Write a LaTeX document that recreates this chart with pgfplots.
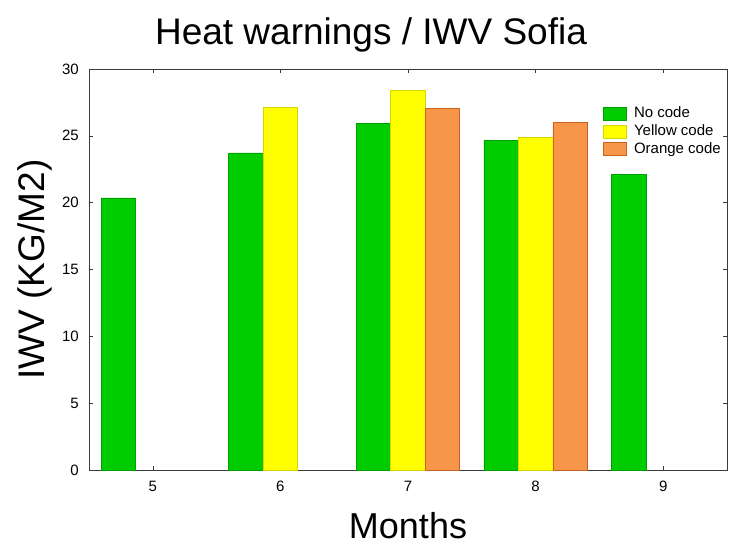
\documentclass[border=0pt]{standalone}
\usepackage{pgfplots}
\pgfplotsset{compat=1.18}
\usepackage{fontspec}
\setmainfont{Liberation Sans}
\definecolor{gfill}{RGB}{0,204,0}
\definecolor{gedge}{RGB}{0,160,0}
\definecolor{yfill}{RGB}{255,255,0}
\definecolor{yedge}{RGB}{215,215,0}
\definecolor{ofill}{RGB}{247,150,72}
\definecolor{oedge}{RGB}{200,100,30}
\definecolor{axgray}{RGB}{60,60,60}
\begin{document}
\begin{tikzpicture}
\path[use as bounding box] (0,0) rectangle (731pt,552pt);
\begin{axis}[
  at={(89pt,82pt)}, anchor=south west,
  scale only axis, width=638pt, height=401pt,
  xmin=4.5, xmax=9.5, ymin=0, ymax=30,
  xtick={5,6,7,8,9}, ytick={0,5,...,30},
  tick align=inside, major tick length=4pt,
  tick style={axgray, line width=0.6pt},
  axis line style={axgray, line width=1pt},
  /pgf/number format/assume math mode=true,
  ticklabel style={font=\fontsize{15}{17}\selectfont},
  yticklabel style={anchor=east, inner sep=0pt, xshift=-10pt},
  xticklabel style={anchor=north, inner sep=0pt, yshift=-10.5pt},
  title={Heat warnings / IWV Sofia},
  title style={font=\fontsize{37}{42}\selectfont, at={(axis description cs:0.442,1)}, anchor=base, yshift=19pt},
  xlabel={Months},
  xlabel style={font=\fontsize{36}{40}\selectfont, at={(axis description cs:0.5,0)}, anchor=base, yshift=-68pt},
  ylabel={IWV (KG/M2)},
  ylabel style={font=\fontsize{37}{42}\selectfont, at={(axis description cs:-0.069,0.5)}, anchor=base, rotate=0},
  bar width=0.27,
  legend style={draw=none, fill=none, at={(axis description cs:0.806,0.906)}, anchor=north west,
    inner sep=0pt, row sep=3.7pt, column sep=7pt,
    font=\fontsize{15}{17}\selectfont,
    nodes={inner sep=0pt, anchor=west, text height=11pt, text depth=3pt}},
  legend image code/.code={\draw[#1] (0pt,-6.5pt) rectangle (23pt,6.5pt);},
  legend cell align=left,
]
\addplot[ybar, bar shift=-0.27, fill=gfill, draw=gedge, line width=0.6pt] coordinates {(5,20.35) (6,23.73) (7,25.93) (8,24.68) (9,22.1)};
\addlegendentry{No code}
\addplot[ybar, bar shift=0, fill=yfill, draw=yedge, line width=0.6pt] coordinates {(6,27.13) (7,28.38) (8,24.88)};
\addlegendentry{Yellow code}
\addplot[ybar, bar shift=0.27, fill=ofill, draw=oedge, line width=0.6pt] coordinates {(7,27.03) (8,25.98)};
\addlegendentry{Orange code}
\end{axis}
\end{tikzpicture}
\end{document}
